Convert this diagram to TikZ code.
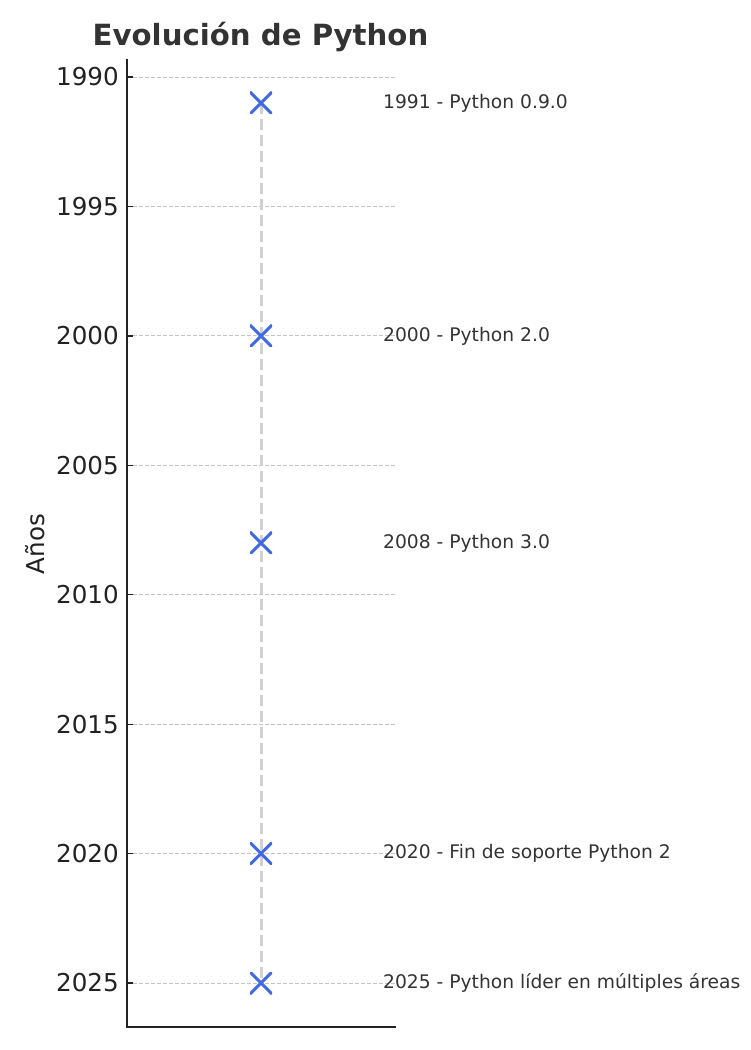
\documentclass[tikz,border=0pt]{standalone}
\usepackage{fontspec}
\setmainfont{DejaVu Sans}
\usetikzlibrary{positioning}
\definecolor{royal}{RGB}{65,105,225}
\definecolor{darktext}{RGB}{51,51,51}
\definecolor{ticktext}{RGB}{34,34,34}
\definecolor{gridgrey}{RGB}{196,196,196}
\definecolor{lineline}{RGB}{208,208,208}

\tikzset{
  spine/.style={line width=2pt, ticktext},
  gridline/.style={line width=0.9pt, gridgrey, dash pattern=on 4pt off 2pt},
  dataline/.style={line width=3pt, lineline, dash pattern=on 11pt off 5pt},
  xmark/.style={minimum size=22pt, inner sep=0pt,
    path picture={\draw[royal, line width=3pt]
      (path picture bounding box.north west) -- (path picture bounding box.south east)
      (path picture bounding box.north east) -- (path picture bounding box.south west);}},
  evlabel/.style={font=\fontsize{18.7}{22}\selectfont, darktext, inner sep=0pt},
  yearlabel/.style={font=\fontsize{24.6}{28}\selectfont, ticktext, inner sep=0pt, anchor=east}
}

\begin{document}
\begin{tikzpicture}[x=1pt, y=-1pt]
  \useasboundingbox (0,0) rectangle (750,1050);
  % grid and ticks
  \foreach \yr in {1990,1995,...,2025}{
    \pgfmathsetmacro{\yy}{77+(\yr-1990)*25.886}
    \draw[gridline] (127,\yy) -- (395,\yy);
    \draw[line width=1.3pt, ticktext] (127,\yy) -- (133,\yy);
    \node[yearlabel] (tick\yr) at (119,\yy) {\yr};
  }
  % axes
  \draw[spine] (127,59) -- (127,1027) -- (395.5,1027);
  \node[font=\bfseries\fontsize{29.2}{32}\selectfont, darktext] (title) at (260.5,37) {Evolución de Python};
  \node[font=\fontsize{24.6}{28}\selectfont, ticktext, rotate=90] (ylab) at (35,544) {Años};

  % events
  \coordinate (c1991) at (261,102.9);
  \coordinate (c2000) at (261,335.9);
  \coordinate (c2008) at (261,542.9);
  \coordinate (c2020) at (261,853.6);
  \coordinate (c2025) at (261,983);
  \draw[dataline] (c1991) -- (c2025);
  \node[xmark] (m1991) at (c1991) {};
  \node[xmark] (m2000) at (c2000) {};
  \node[xmark] (m2008) at (c2008) {};
  \node[xmark] (m2020) at (c2020) {};
  \node[xmark] (m2025) at (c2025) {};
  \node[evlabel, right=122pt of c1991, anchor=west] (l1991) {1991 - Python 0.9.0};
  \node[evlabel, right=122pt of c2000, anchor=west] (l2000) {2000 - Python 2.0};
  \node[evlabel, right=122pt of c2008, anchor=west] (l2008) {2008 - Python 3.0};
  \node[evlabel, right=122pt of c2020, anchor=west] (l2020) {2020 - Fin de soporte Python 2};
  \node[evlabel, right=122pt of c2025, anchor=west] (l2025) {2025 - Python líder en múltiples áreas};
\end{tikzpicture}
\end{document}
